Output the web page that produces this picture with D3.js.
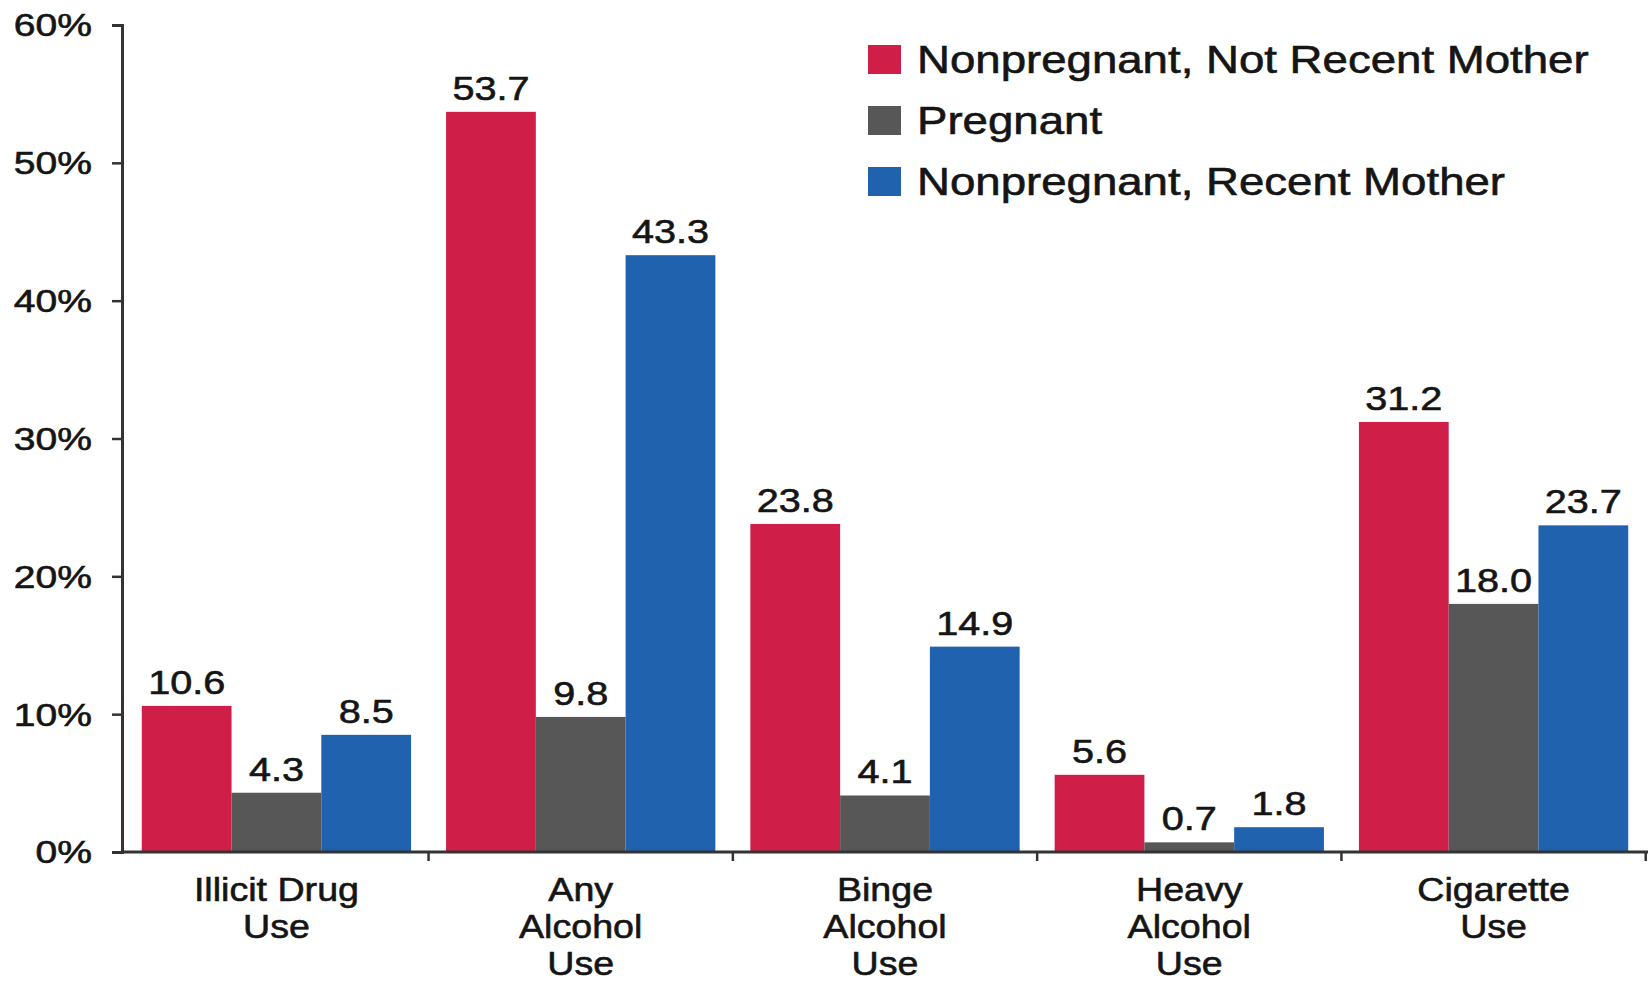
<!DOCTYPE html>
<html>
<head>
<meta charset="utf-8">
<script src="https://cdn.jsdelivr.net/npm/d3@7"></script>
<style>
  body { margin: 0; background: #fff; }
  text { font-family: "Liberation Sans", Arial, sans-serif; fill: #151515; stroke: #151515; stroke-width: 0.6px; }
</style>
</head>
<body>
<div id="wrapper"></div>
<script>
const categories = [["Illicit Drug", "Use"], ["Any", "Alcohol", "Use"], ["Binge", "Alcohol", "Use"], ["Heavy", "Alcohol", "Use"], ["Cigarette", "Use"]]
const seriesNames = ["Nonpregnant, Not Recent Mother", "Pregnant", "Nonpregnant, Recent Mother"]
const notRecentMother = [10.6, 53.7, 23.8, 5.6, 31.2]
const pregnant = [4.3, 9.8, 4.1, 0.7, 18.0]
const recentMother = [8.5, 43.3, 14.9, 1.8, 23.7]
const yTicks = [0, 10, 20, 30, 40, 50, 60]
const colors = ["#cf1f48", "#575757", "#2062ae"]

function drawChart() {
  const width = 1648
  const height = 983
  const margin = { top: 25, right: 0, bottom: 131, left: 122 }
  const stretch = 1.2

  const svg = d3.select("#wrapper").append("svg")
    .attr("width", width)
    .attr("height", height)

  const series = [notRecentMother, pregnant, recentMother]
  const data = categories.map((c, i) => ({
    key: i,
    label: c,
    values: series.map((s, j) => ({ series: j, value: s[i] }))
  }))

  // scales
  const x0 = d3.scaleBand()
    .domain(data.map(d => d.key))
    .range([margin.left, width - margin.right])
    .paddingInner(0.115)
    .paddingOuter(0.065)

  const x1 = d3.scaleBand()
    .domain([0, 1, 2])
    .range([0, x0.bandwidth()])

  const y = d3.scaleLinear()
    .domain([0, 60])
    .range([height - margin.bottom, margin.top])

  // bars
  const groups = svg.append("g").selectAll("g")
    .data(data)
    .join("g")
      .attr("transform", d => `translate(${x0(d.key)},0)`)

  groups.selectAll("rect")
    .data(d => d.values)
    .join("rect")
      .attr("x", d => x1(d.series))
      .attr("y", d => y(d.value))
      .attr("width", x1.bandwidth())
      .attr("height", d => y(0) - y(d.value))
      .attr("fill", d => colors[d.series])

  groups.selectAll("text.value")
    .data(d => d.values)
    .join("text")
      .attr("class", "value")
      .attr("text-anchor", "middle")
      .attr("font-size", 33)
      .attr("transform", d => `translate(${x1(d.series) + x1.bandwidth() / 2},${y(d.value) - 12}) scale(${stretch},1)`)
      .text(d => d.value.toFixed(1))

  // y axis
  const yAxis = svg.append("g")
    .attr("transform", `translate(${margin.left},0)`)
    .call(d3.axisLeft(y).tickValues(yTicks).tickSize(10).tickPadding(0).tickFormat(d => d + "%"))
  yAxis.select(".domain").attr("stroke", "#333").attr("stroke-width", 3)
  yAxis.selectAll(".tick line").attr("stroke", "#333").attr("stroke-width", 2.5)
  yAxis.selectAll(".tick text")
    .attr("x", null)
    .attr("dy", null)
    .attr("font-size", 31)
    .attr("dominant-baseline", "central")
    .attr("transform", `translate(-30,0) scale(${stretch * 1.05},1)`)
    .style("fill", "#151515")

  // x axis with ticks at group boundaries
  const step = x0.step()
  const boundaries = data.map(d => x0(d.key) - step * x0.paddingInner() / 2).slice(1)
  boundaries.push(x0(data[data.length - 1].key) + x0.bandwidth() + step * x0.paddingInner() / 2)
  const xAxis = svg.append("g").attr("transform", `translate(0,${y(0)})`)
  xAxis.append("line")
    .attr("x1", margin.left)
    .attr("x2", width)
    .attr("stroke", "#333")
    .attr("stroke-width", 3)
  xAxis.selectAll("line.tick")
    .data(boundaries)
    .join("line")
      .attr("class", "tick")
      .attr("x1", d => d)
      .attr("x2", d => d)
      .attr("y2", 9)
      .attr("stroke", "#333")
      .attr("stroke-width", 2.5)

  const catLabels = svg.append("g").selectAll("text")
    .data(data)
    .join("text")
      .attr("font-size", 33)
      .attr("text-anchor", "middle")
      .attr("transform", d => `translate(${x0(d.key) + x0.bandwidth() / 2},${y(0) + 49}) scale(${stretch * 0.95},1)`)
  catLabels.selectAll("tspan")
    .data(d => d.label)
    .join("tspan")
      .attr("x", 0)
      .attr("y", (d, i) => i * 37)
      .text(d => d)

  // legend
  const legend = svg.append("g").selectAll("g")
    .data(seriesNames)
    .join("g")
      .attr("transform", (d, i) => `translate(868,${45 + i * 61})`)
  legend.append("rect")
    .attr("width", 33)
    .attr("height", 29)
    .attr("fill", (d, i) => colors[i])
  legend.append("text")
    .attr("font-size", 38)
    .attr("transform", `translate(49,28) scale(${stretch},1)`)
    .text(d => d)
}
drawChart()
</script>
</body>
</html>
